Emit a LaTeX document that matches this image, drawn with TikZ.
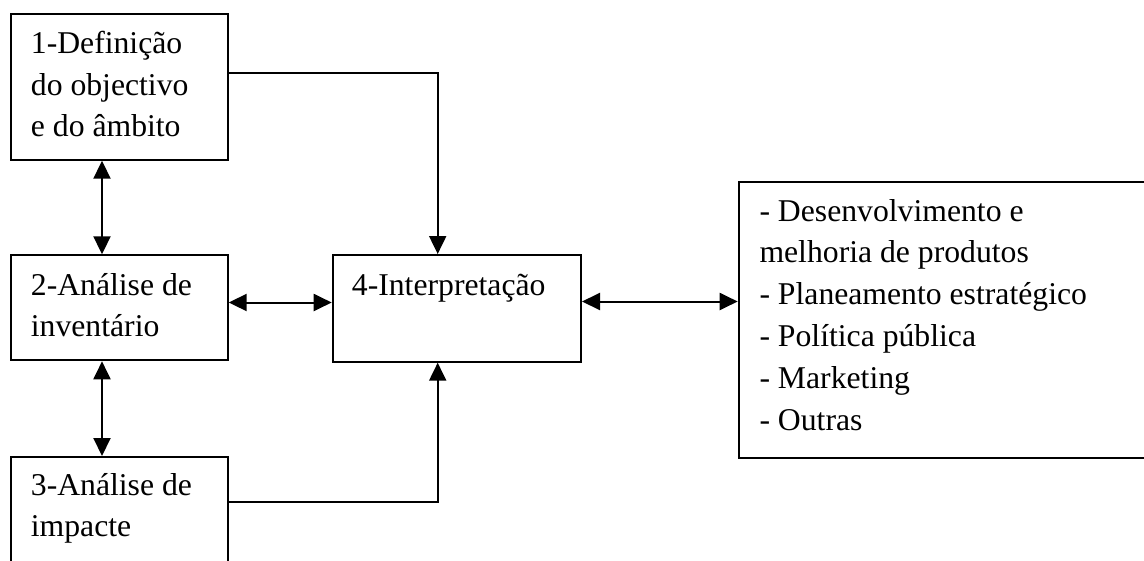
\documentclass[tikz,border=0pt]{standalone}
\usepackage{fontspec}
\setmainfont{Liberation Serif}
\usetikzlibrary{arrows.meta}
\begin{document}
\begin{tikzpicture}[x=1pt,y=-1pt,
  box/.style={draw, line width=2pt, inner sep=0pt, anchor=north west},
  txt/.style={anchor=base west, inner sep=0pt, font=\fontsize{31.7}{41.8}\selectfont},
  tip/.tip={Triangle[length=18pt,width=17pt]},
  conn/.style={line width=2pt, -tip},
  bi/.style={line width=2pt, tip-tip}]
\useasboundingbox (0,0) rectangle (1144,560);

\node[box, minimum width=216.7pt, minimum height=146pt] (b1) at (10,12.7) {};
\node[box, minimum width=216.7pt, minimum height=105pt] (b2) at (10,254.3) {};
\node[box, minimum width=216.7pt, minimum height=119pt] (b3) at (10,456) {};
\node[box, minimum width=248.3pt, minimum height=106.7pt] (b4) at (331.7,254) {};
\node[box, minimum width=412.3pt, minimum height=276pt] (b5) at (737.7,180.7) {};

\node[txt] (t1) at (30.7,53.3) {\vtop{\hbox{1-Definição}\hbox{do objectivo}\hbox{e do âmbito}}};
\node[txt] (t2) at (30.7,295) {\vtop{\hbox{2-Análise de}\hbox{inventário}}};
\node[txt] (t3) at (30.7,495) {\vtop{\hbox{3-Análise de}\hbox{impacte}}};
\node[txt] (t4) at (351.7,295) {4-Interpretação};
\node[txt] (t5) at (759.3,221) {\vtop{\hbox{- Desenvolvimento e}\hbox{melhoria de produtos}\hbox{- Planeamento estratégico}\hbox{- Política pública}\hbox{- Marketing}\hbox{- Outras}}};

\draw[bi] ([xshift=92pt]b1.south west) -- ([xshift=92pt]b2.north west);
\draw[bi] ([xshift=92pt]b2.south west) -- ([xshift=92pt]b3.north west);
\draw[bi] ([yshift=5.3pt]b2.east) -- ([yshift=5.3pt]b2.east -| b4.west);
\draw[bi] ([yshift=6.85pt]b4.east) -- ([yshift=6.85pt]b4.east -| b5.west);
\draw[conn] ([yshift=14pt]b1.east) -| ([xshift=106pt]b4.north west);
\draw[conn] ([yshift=-45.7pt]b3.north east) -| ([xshift=106pt]b4.south west);
\end{tikzpicture}
\end{document}
